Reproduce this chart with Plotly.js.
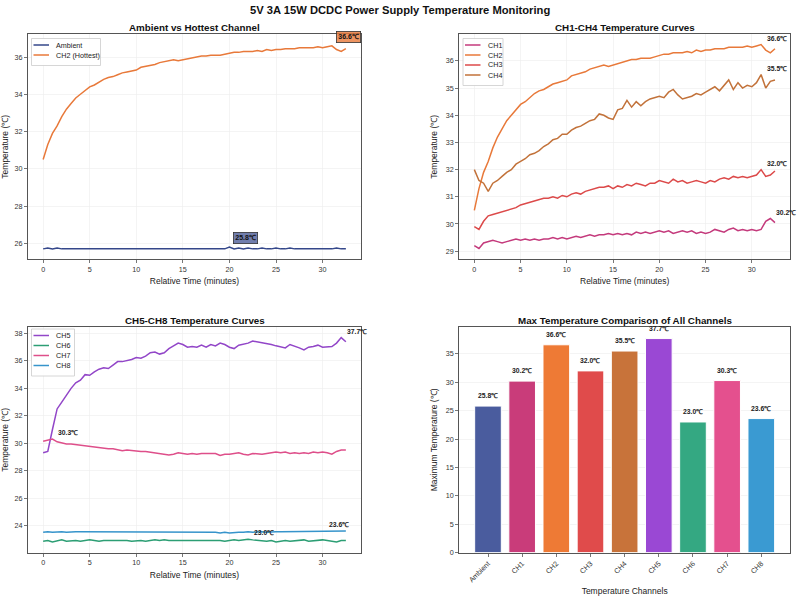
<!DOCTYPE html>
<html>
<head>
<meta charset="utf-8">
<script src="https://cdn.plot.ly/plotly-3.0.1.min.js"></script>
<style>html,body{margin:0;padding:0;background:#fff;}#chart{width:800px;height:596px;}</style>
</head>
<body>
<div id="chart"></div>
<script>
var timeMin = [0,0.5,1,1.5,2,2.5,3,3.5,4,4.5,5,5.5,6,6.5,7,7.5,8,8.5,9,9.5,10,10.5,11,11.5,12,12.5,13,13.5,14,14.5,15,15.5,16,16.5,17,17.5,18,18.5,19,19.5,20,20.5,21,21.5,22,22.5,23,23.5,24,24.5,25,25.5,26,26.5,27,27.5,28,28.5,29,29.5,30,30.5,31,31.5,32,32.5];

var ambient = [25.7,25.75,25.7,25.75,25.7,25.7,25.7,25.7,25.7,25.7,
  25.7,25.7,25.7,25.7,25.7,25.7,25.7,25.7,25.7,25.7,
  25.7,25.7,25.7,25.7,25.7,25.7,25.7,25.7,25.7,25.7,
  25.7,25.7,25.7,25.7,25.7,25.7,25.7,25.7,25.7,25.7,
  25.8,25.7,25.75,25.7,25.75,25.7,25.7,25.75,25.7,25.7,
  25.75,25.7,25.7,25.75,25.7,25.7,25.7,25.7,25.7,25.7,
  25.7,25.7,25.7,25.75,25.7,25.7];

var ch1 = [29.2,29.1,29.3,29.35,29.4,29.35,29.3,29.35,29.4,29.45,
  29.4,29.45,29.4,29.45,29.4,29.45,29.45,29.5,29.45,29.5,
  29.45,29.5,29.55,29.5,29.55,29.6,29.55,29.6,29.6,29.65,
  29.6,29.65,29.6,29.65,29.6,29.7,29.65,29.7,29.65,29.7,
  29.75,29.7,29.75,29.65,29.7,29.75,29.7,29.75,29.65,29.7,
  29.65,29.7,29.8,29.75,29.7,29.8,29.85,29.75,29.8,29.75,
  29.8,29.75,29.8,30.1,30.2,30.05];

var ch2 = [30.5,31.3,31.9,32.3,32.8,33.2,33.5,33.8,34.0,34.2,
  34.4,34.5,34.65,34.8,34.9,34.95,35.05,35.15,35.2,35.25,
  35.3,35.45,35.5,35.55,35.6,35.7,35.75,35.8,35.85,35.8,
  35.85,35.9,35.95,36.0,36.05,36.05,36.1,36.1,36.1,36.15,
  36.2,36.25,36.25,36.3,36.3,36.3,36.35,36.3,36.4,36.35,
  36.4,36.4,36.45,36.45,36.45,36.5,36.5,36.5,36.5,36.55,
  36.5,36.55,36.6,36.4,36.3,36.45];

var ch3 = [29.9,29.8,30.1,30.3,30.35,30.4,30.45,30.5,30.55,30.6,
  30.7,30.75,30.8,30.85,30.9,30.95,30.95,31.0,30.95,31.05,
  31.0,31.1,31.15,31.1,31.2,31.25,31.3,31.35,31.35,31.4,
  31.3,31.4,31.35,31.45,31.4,31.5,31.45,31.4,31.5,31.5,
  31.6,31.55,31.5,31.65,31.55,31.6,31.5,31.55,31.6,31.55,
  31.5,31.6,31.55,31.65,31.7,31.65,31.75,31.7,31.75,31.7,
  31.75,31.8,32.0,31.75,31.8,31.95];

var ch4 = [32.0,31.6,31.5,31.2,31.5,31.6,31.75,31.9,32.0,32.2,
  32.3,32.4,32.55,32.6,32.7,32.85,32.95,33.1,33.15,33.3,
  33.3,33.45,33.55,33.6,33.7,33.8,33.85,34.05,34.0,33.9,
  33.85,34.2,34.25,34.55,34.3,34.5,34.35,34.5,34.6,34.65,
  34.7,34.65,34.85,34.95,34.75,34.6,34.65,34.7,34.8,34.75,
  34.85,34.95,35.05,34.9,35.1,35.3,34.95,35.2,35.0,35.1,
  35.05,35.2,35.5,35.0,35.25,35.3];

var ch5 = [29.3,29.4,31.0,32.5,33.0,33.5,34.0,34.4,34.6,35.0,
  34.95,35.2,35.4,35.5,35.45,35.7,35.95,35.95,36.0,36.1,
  36.25,36.2,36.35,36.6,36.65,36.5,36.6,36.9,37.1,37.3,
  37.2,37.0,37.05,37.0,37.15,37.0,37.2,37.1,37.3,37.2,
  37.0,36.9,37.15,37.2,37.3,37.45,37.4,37.35,37.3,37.2,
  37.1,37.0,36.95,37.2,37.1,36.95,36.8,37.0,37.05,37.15,
  37.0,37.0,37.05,37.3,37.7,37.4];

var ch6 = [22.85,22.9,22.8,22.9,22.95,22.85,22.9,22.9,22.85,22.9,
  22.95,22.9,22.85,22.9,22.9,22.95,22.9,22.95,22.9,22.85,
  22.9,22.9,22.85,22.9,22.95,22.9,22.95,22.9,22.9,22.95,
  22.95,22.95,22.95,22.9,22.95,22.9,22.9,22.95,22.9,22.85,
  22.9,22.95,22.9,22.95,23.0,22.95,22.9,22.9,22.85,22.9,
  22.8,22.85,22.9,22.85,22.9,22.9,22.95,22.85,22.9,22.9,
  22.95,22.9,22.85,22.8,22.9,22.9];

var ch7 = [30.15,30.2,30.3,30.1,30.0,29.95,29.95,29.9,29.85,29.8,
  29.75,29.75,29.7,29.65,29.6,29.6,29.5,29.45,29.5,29.45,
  29.45,29.4,29.4,29.35,29.35,29.3,29.2,29.15,29.2,29.3,
  29.25,29.2,29.25,29.2,29.25,29.25,29.2,29.25,29.1,29.2,
  29.2,29.25,29.3,29.2,29.15,29.25,29.2,29.2,29.25,29.3,
  29.35,29.3,29.35,29.25,29.3,29.25,29.3,29.25,29.35,29.3,
  29.35,29.3,29.2,29.4,29.5,29.5];

var ch8 = [23.5,23.55,23.5,23.55,23.55,23.5,23.55,23.55,23.55,23.55,
  23.55,23.55,23.5,23.55,23.55,23.55,23.55,23.55,23.55,23.55,
  23.5,23.55,23.55,23.55,23.5,23.55,23.55,23.5,23.55,23.55,
  23.5,23.5,23.55,23.5,23.5,23.5,23.5,23.5,23.45,23.5,
  23.45,23.5,23.5,23.5,23.55,23.5,23.55,23.55,23.5,23.55,
  23.55,23.55,23.55,23.55,23.55,23.55,23.55,23.55,23.55,23.55,
  23.6,23.6,23.6,23.6,23.6,23.6];

var channelNames = ["Ambient","CH1","CH2","CH3","CH4","CH5","CH6","CH7","CH8"];
var maxTemps = [25.8,30.2,36.6,32.0,35.5,37.7,23.0,30.3,23.6];
var lineColors = ["#34478a","#c43a7c","#e8793a","#dc4a4a","#c2723a","#9246c8","#2c9e74","#de4f8a","#3694cb"];
var barColors = ["#4a5c9e","#c93c7a","#ee7a35","#e04b4b","#c8733a","#9a48d4","#34a882","#e4508e","#3a9ad2"];
var timeTicks = [0,5,10,15,20,25,30];

var FONT = "Liberation Sans, Arial, Helvetica, sans-serif";
var W = 800, H = 596;
var series = [ambient,ch1,ch2,ch3,ch4,ch5,ch6,ch7,ch8];

function argmax(a){var m=0;for(var i=1;i<a.length;i++){if(a[i]>a[m])m=i;}return m;}
function px(x){return x/W;}
function py(y){return 1-y/H;}

var traces = [];
function lineTrace(idx, xa, ya, name){
  return {x: timeMin, y: series[idx], type:'scatter', mode:'lines', name: name || channelNames[idx],
    xaxis: xa, yaxis: ya, showlegend:false,
    line:{color: lineColors[idx], width:1.5}, hoverinfo:'skip'};
}
traces.push(lineTrace(0,'x','y'));
traces.push(lineTrace(2,'x','y','CH2 (Hottest)'));
[1,2,3,4].forEach(function(i){traces.push(lineTrace(i,'x2','y2'));});
[5,6,7,8].forEach(function(i){traces.push(lineTrace(i,'x3','y3'));});
traces.push({x: channelNames, y: maxTemps, type:'bar', xaxis:'x4', yaxis:'y4', showlegend:false,
  marker:{color: barColors, line:{color:'#ffffff', width:1}}, width:0.78, hoverinfo:'skip'});

var annotations = [];
var shapes = [];
function subTitle(text, x, y){
  annotations.push({text:'<b>'+text+'</b>', xref:'paper', yref:'paper', x:x, y:y, xanchor:'center', yanchor:'middle',
    showarrow:false, font:{family:FONT, size:9.8, color:'#111'}});
}
annotations.push({text:'<b>5V 3A 15W DCDC Power Supply Temperature Monitoring</b>', xref:'paper', yref:'paper',
  x:0.5, y:py(10), xanchor:'center', yanchor:'middle', showarrow:false, font:{family:FONT, size:11.2, color:'#111'}});
subTitle('Ambient vs Hottest Channel', px(194.5), py(27));
subTitle('CH1-CH4 Temperature Curves', px(624.6), py(27));
subTitle('CH5-CH8 Temperature Curves', px(194.5), py(320));
subTitle('Max Temperature Comparison of All Channels', px(624.6), py(320));

function boxLabel(idx, xa, ya, bg){
  var k = argmax(series[idx]);
  annotations.push({text:'<b>'+maxTemps[idx].toFixed(1)+'℃</b>', xref:xa, yref:ya, x: timeMin[k], y: series[idx][k],
    xanchor:'left', yanchor:'bottom', xshift:4, yshift:3, showarrow:false, bgcolor:bg, bordercolor:'#333',
    borderwidth:0.8, borderpad:1.5, font:{family:FONT, size:7, color:'#111'}});
}
boxLabel(2,'x','y','rgba(232,121,58,0.8)');
boxLabel(0,'x','y','rgba(52,71,138,0.7)');

function plainLabel(idx, xa, ya){
  var k = argmax(series[idx]);
  annotations.push({text:'<b>'+maxTemps[idx].toFixed(1)+'℃</b>', xref:xa, yref:ya, x: timeMin[k], y: series[idx][k],
    xanchor:'left', yanchor:'bottom', xshift:4, yshift:1, showarrow:false, font:{family:FONT, size:6.8, color:'#222'}});
}
[1,2,3,4].forEach(function(i){plainLabel(i,'x2','y2');});
[5,6,7,8].forEach(function(i){plainLabel(i,'x3','y3');});

channelNames.forEach(function(n, i){
  annotations.push({text:'<b>'+maxTemps[i].toFixed(1)+'℃</b>', xref:'x4', yref:'y4', x:n, y:maxTemps[i],
    xanchor:'center', yanchor:'bottom', yshift:5, showarrow:false, font:{family:FONT, size:6.8, color:'#222'}});
});

// compact legends (matplotlib-style), drawn as paper-space decorations
function legendBox(left, top, width, idxList, labels){
  var rowH = 10, padTop = 5, padBot = 6;
  var height = padTop + rowH*idxList.length + padBot - rowH/2 + 1;
  shapes.push({type:'rect', xref:'paper', yref:'paper', x0:px(left), x1:px(left+width), y0:py(top+height), y1:py(top),
    fillcolor:'rgba(255,255,255,0.85)', line:{color:'#cccccc', width:0.8}, layer:'above'});
  idxList.forEach(function(idx, r){
    var yc = top + padTop + 0.5 + rowH*r + 1;
    shapes.push({type:'line', xref:'paper', yref:'paper', x0:px(left+2), x1:px(left+17.5), y0:py(yc), y1:py(yc),
      line:{color: lineColors[idx], width:1.5}, layer:'above'});
    annotations.push({text: labels ? labels[r] : channelNames[idx], xref:'paper', yref:'paper', x:px(left+22.5), y:py(yc),
      xanchor:'left', yanchor:'middle', showarrow:false, font:{family:FONT, size:7.2, color:'#222'}});
  });
}
legendBox(31.5, 38.5, 69, [0,2], ['Ambient','CH2 (Hottest)']);
legendBox(463, 38.5, 40, [1,2,3,4]);
legendBox(31.5, 329, 43, [5,6,7,8]);

function axisBase(extra){
  var a = {showline:true, mirror:true, linecolor:'#555', linewidth:1.1, ticks:'outside', ticklen:3, tickwidth:0.8,
    tickcolor:'#555', showgrid:true, gridcolor:'#ececec', gridwidth:0.6, zeroline:false,
    tickfont:{family:FONT, size:7.2, color:'#333'}, automargin:false};
  for (var k in extra) a[k] = extra[k];
  return a;
}
var L1 = px(28), R1 = px(361), L2 = px(459.3), R2 = px(790);
var topDom = [py(259.3), py(34.3)];
var botDom = [py(552.5), py(327.2)];
function xTitle(t){return {text:t, font:{family:FONT, size:8.5, color:'#222'}, standoff:5};}
function yTitle(t){return {text:t, font:{family:FONT, size:8.5, color:'#222'}, standoff:6};}

var layout = {
  width:W, height:H, margin:{l:0,r:0,t:0,b:0}, paper_bgcolor:'#fff', plot_bgcolor:'#fff',
  font:{family:FONT}, showlegend:false, annotations: annotations, shapes: shapes,
  xaxis: axisBase({domain:[L1,R1], anchor:'y', range:[-1.625,34.125], tickvals:timeTicks, title:xTitle('Relative Time (minutes)')}),
  yaxis: axisBase({domain:topDom, anchor:'x', range:[25.14,37.22], dtick:2, title:yTitle('Temperature (℃)')}),
  xaxis2: axisBase({domain:[L2,R2], anchor:'y2', range:[-1.625,34.125], tickvals:timeTicks, title:xTitle('Relative Time (minutes)')}),
  yaxis2: axisBase({domain:topDom, anchor:'x2', range:[28.7,36.98], dtick:1, title:yTitle('Temperature (℃)')}),
  xaxis3: axisBase({domain:[L1,R1], anchor:'y3', range:[-1.625,34.125], tickvals:timeTicks, title:xTitle('Relative Time (minutes)')}),
  yaxis3: axisBase({domain:botDom, anchor:'x3', range:[22.03,38.46], dtick:2, title:yTitle('Temperature (℃)')}),
  xaxis4: axisBase({domain:[L2,R2], anchor:'y4', range:[-0.84,8.84], showgrid:false, tickangle:-45, title:xTitle('Temperature Channels')}),
  yaxis4: axisBase({domain:botDom, anchor:'x4', range:[0,39.7], dtick:5, title:yTitle('Maximum Temperature (℃)')})
};

Plotly.newPlot('chart', traces, layout, {staticPlot:true, displayModeBar:false});
</script>
</body>
</html>
